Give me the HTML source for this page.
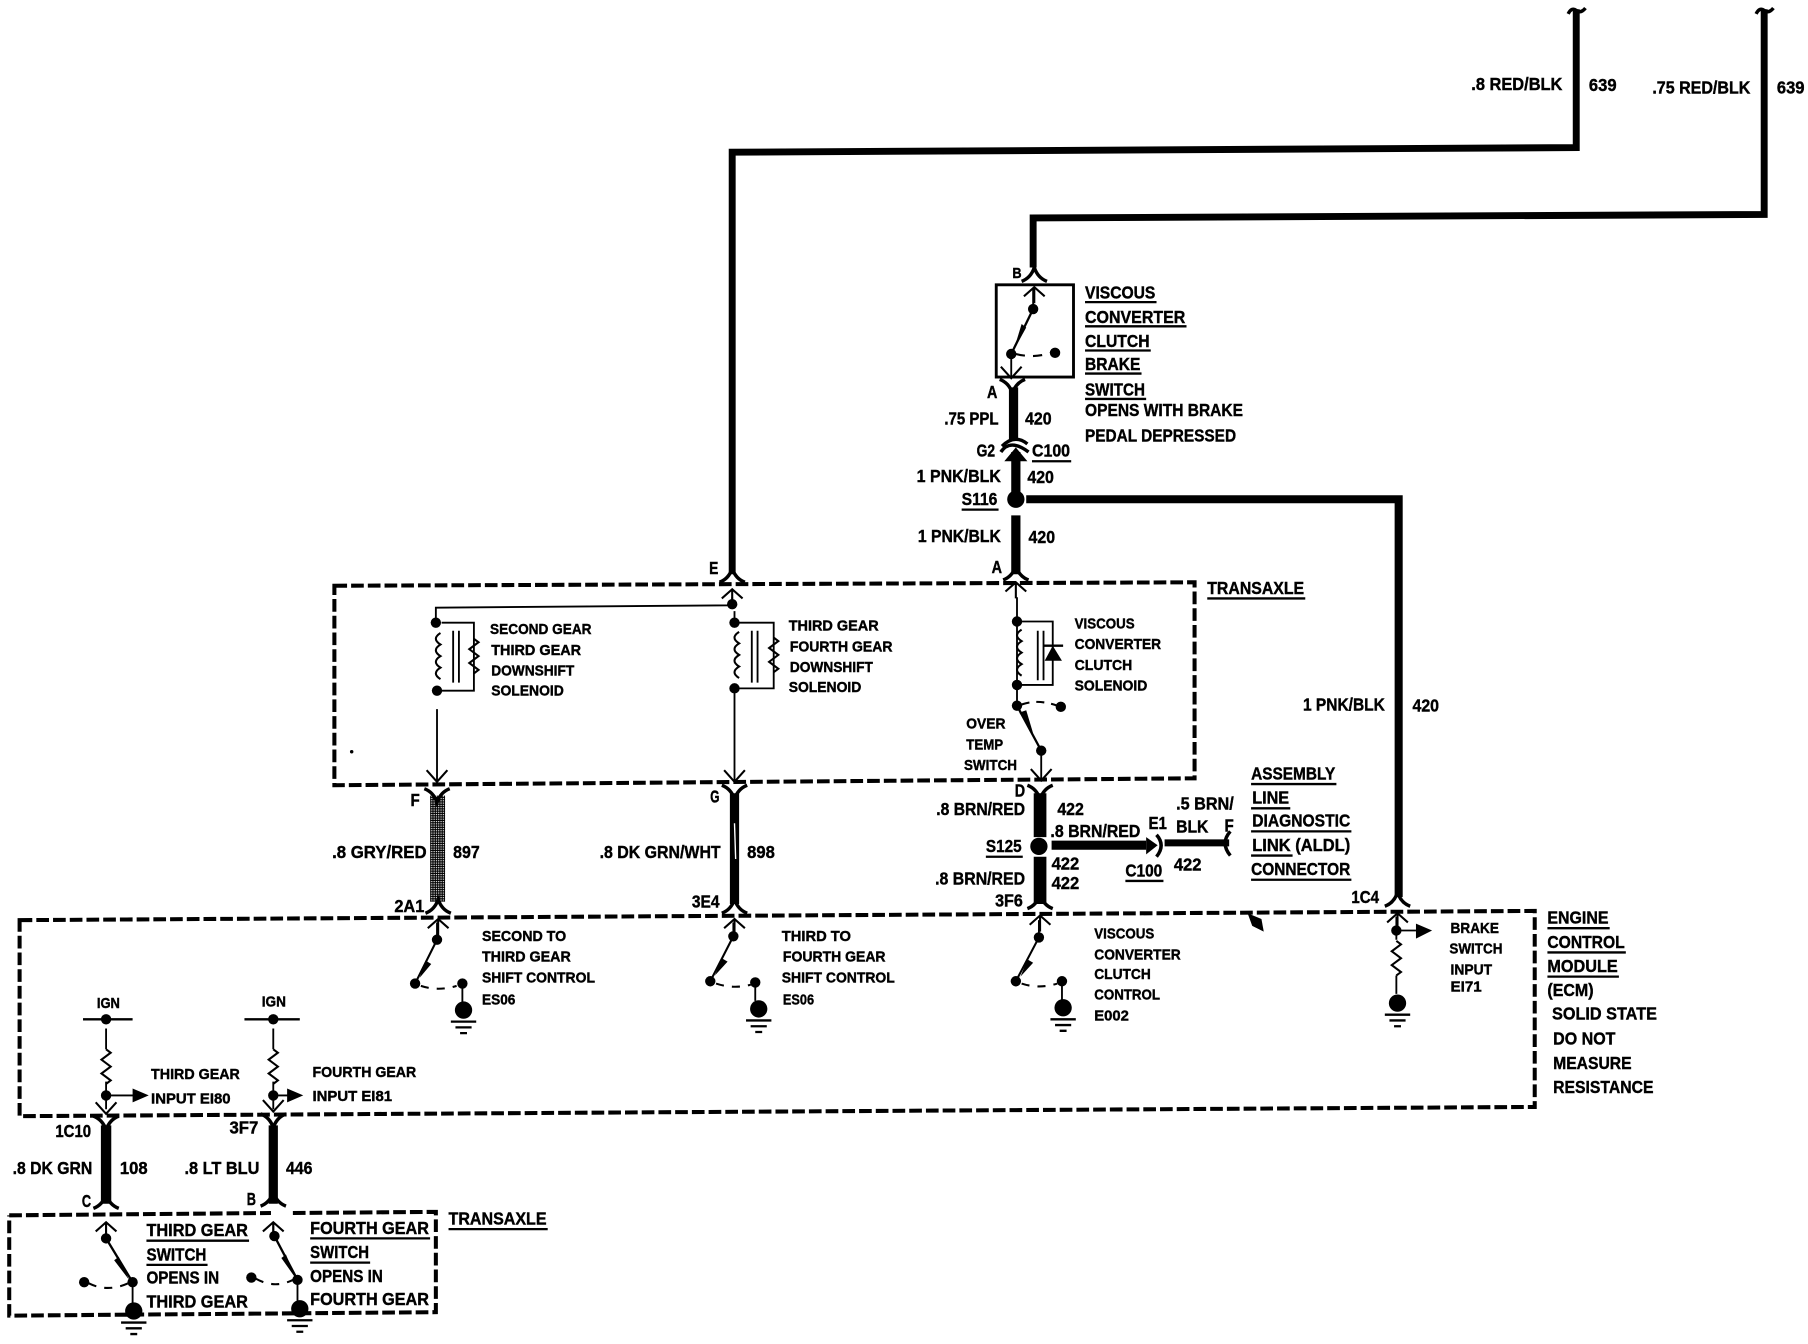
<!DOCTYPE html>
<html><head><meta charset="utf-8"><title>Wiring diagram</title>
<style>
html,body{margin:0;padding:0;background:#fff}
svg{display:block}
text{font-family:"Liberation Sans",sans-serif;font-weight:700;fill:#000;font-size:15px;stroke:#000;stroke-width:.35}
text.s{font-size:12.5px}
.w{fill:none;stroke:#000;stroke-linecap:butt;stroke-linejoin:miter}
.d{fill:none;stroke:#000;stroke-width:3.5;stroke-dasharray:11 3.5}
.t{fill:none;stroke:#000;stroke-width:1.6}
.u{stroke:#000;stroke-width:2}
.f{fill:none;stroke:#000;stroke-width:3}
</style></head><body>
<svg xmlns="http://www.w3.org/2000/svg" width="1808" height="1344" viewBox="0 0 1568 1165.6" preserveAspectRatio="none">
<defs>
<pattern id="st" width="2" height="2" patternUnits="userSpaceOnUse"><rect width="2" height="2" fill="#000"/><rect width="1" height="1" fill="#fff"/></pattern>
<path id="fd" d="M-11,1 Q-3,-2 0,-11 Q3,-2 11,1" fill="none" stroke="#000" stroke-width="3"/>
<path id="fu" d="M-11,-1 Q-3,2 0,11 Q3,2 11,-1" fill="none" stroke="#000" stroke-width="3"/>
<path id="au" d="M-9,8 L0,0 L9,8 M0,0 V14" fill="none" stroke="#000" stroke-width="1.8"/>
<path id="ad" d="M-9,-10 L0,0 L9,-10" fill="none" stroke="#000" stroke-width="1.8"/>
<g id="gn"><circle r="7.5"/><path d="M-11,10 H11 M-7,15 H7 M-3,20 H3" stroke="#000" stroke-width="2"/></g>
<path id="zz" d="M0,0 l4,3 l-8,6 l8,6 l-8,6 l8,6 l-4,3" fill="none" stroke="#000" stroke-width="1.8"/>
<path id="cl" d="M0,0 q-8,5 0,10 q-8,5 0,10 q-8,5 0,10 q-8,5 0,10" fill="none" stroke="#000" stroke-width="1.8"/>
</defs>

<!-- heavy wires -->
<path class="w" stroke-width="6" d="M1367,8 V128 L635,132 V498"/>
<path class="w" stroke-width="6" d="M1530,8 V186 L896,189 V232"/>
<path class="f" stroke-width="2" d="M1360,12 q3,-6 7,-3 q4,3 8,-2 M1523,12 q3,-6 7,-3 q4,3 8,-2"/>
<path class="w" stroke-width="8" d="M879,336 V382 M881,392 V428 M881,447 V498"/>
<path class="w" stroke-width="7" d="M890,433 H1213 V778"/>
<rect x="373" y="690" width="13" height="92" fill="url(#st)"/>
<path class="w" stroke-width="8" d="M637,688 V784"/>
<path stroke="#fff" stroke-width="1.2" d="M637,714 L638,745"/>
<path class="w" stroke-width="11" d="M902,688 V726 M902,743 V784"/>
<path class="w" stroke-width="8" d="M912,733 H994"/>
<path class="w" stroke-width="6" d="M1010,731 H1066"/>
<path class="w" stroke-width="9" d="M92,976 V1044"/>
<path class="w" stroke-width="8" d="M237,976 V1044"/>
<circle cx="881" cy="433" r="7.5"/><circle cx="901" cy="734" r="7.5"/>

<!-- dashed boxes -->
<path class="d" d="M290,508 L1036,505 V675 L290,681 Z"/>
<path class="d" d="M17,798 L1331,790 V960 L17,968 Z"/>
<path class="d" d="M8,1054 L235,1052 M254,1052 L378,1051 V1138 L8,1141 V1054"/>

<!-- connectors -->
<use href="#fd" x="635" y="504"/><use href="#au" x="635" y="511"/>
<use href="#fd" x="881" y="502"/><use href="#au" x="881" y="505"/>
<use href="#fd" x="897" y="243"/><use href="#au" x="897" y="249"/>
<use href="#fu" x="878" y="330"/>
<use href="#fu" x="379" y="685"/><use href="#fu" x="637" y="682"/><use href="#fu" x="902" y="682"/>
<use href="#fd" x="380" y="791"/><use href="#au" x="380" y="797"/>
<use href="#fd" x="637" y="791"/><use href="#au" x="637" y="797"/>
<use href="#fd" x="902" y="787"/><use href="#au" x="902" y="794"/>
<use href="#fd" x="1212" y="785"/><use href="#au" x="1212" y="792"/>
<use href="#fu" x="92" y="969"/><use href="#fu" x="237" y="967"/>
<use href="#fd" x="92" y="1047"/><use href="#au" x="92" y="1060"/>
<use href="#fd" x="237" y="1045"/><use href="#au" x="237" y="1060"/>
<use href="#ad" x="379" y="678"/><use href="#ad" x="637" y="678"/><use href="#ad" x="903" y="677"/>
<use href="#ad" x="92" y="966"/><use href="#ad" x="237" y="964"/>

<!-- G2 C100 connector -->
<path d="M868,392 Q876,380 892,392" class="f"/><path d="M869,387 Q880,376 891,385" class="f"/>
<path d="M871,400 L881,388 L891,400 Z"/>
<!-- E1 connector -->
<path d="M994,726 L1004,733 L994,741 Z"/>
<path class="f" d="M1003,724 Q1011,733 1003,743"/><path class="f" d="M1067,721 Q1058,731 1067,742"/>

<!-- brake switch -->
<rect x="864" y="247" width="67" height="80" fill="none" stroke="#000" stroke-width="2.5"/>
<path class="t" d="M896,250 V268"/>
<circle cx="896" cy="268" r="4.5"/><circle cx="877" cy="307" r="4.5"/><circle cx="915" cy="306" r="4.5"/>
<path d="M896,268 L877,307" stroke="#000" stroke-width="2"/><path d="M886,281 L890,284 L879,304 Z"/>
<path d="M881,307 Q897,311 911,306" fill="none" stroke="#000" stroke-width="1.8" stroke-dasharray="8 7"/>
<path class="t" d="M877,307 V327"/><use href="#ad" x="877" y="328"/>

<!-- solenoids -->
<path class="t" stroke-width="2" d="M378,536 V527 L635,525 V518"/>
<circle cx="635" cy="524" r="4.5"/>
<circle cx="378" cy="540" r="4.5"/><circle cx="379" cy="599" r="4.5"/>
<path class="t" d="M383,540 H411 V599 H383 M379,615 V678"/>
<use href="#cl" x="382" y="549"/>
<path class="t" d="M393,547 V592 M398,547 V592"/>
<use href="#zz" x="411" y="554"/>

<circle cx="637" cy="540" r="4.5"/><circle cx="637" cy="597" r="4.5"/>
<path class="t" d="M641,540 H671 V597 H641 M637,530 V536 M637,597 V678"/>
<use href="#cl" x="641" y="548"/>
<path class="t" stroke-width="2" d="M652,547 V592 M657,547 V592"/>
<use href="#zz" x="671" y="553"/>

<circle cx="882" cy="539" r="4.5"/><circle cx="882" cy="594" r="4.5"/><circle cx="882" cy="612" r="4.5"/><circle cx="920" cy="613" r="4.5"/><circle cx="903" cy="651" r="4.5"/>
<path class="t" d="M886,539 H913 V594 H886 M882,518 V594 V612 M903,651 V677"/>
<use href="#cl" x="886" y="546"/>
<path class="t" stroke-width="2" d="M900,547 V590 M905,547 V590"/>
<path d="M906,573 L913,560 L921,573 Z"/><path d="M905,560 H922" stroke="#000" stroke-width="2"/>
<path d="M882,612 L903,651" stroke="#000" stroke-width="2"/><path d="M884,618 L890,616 L896,636 Z"/>
<path d="M886,611 Q900,606 917,612" fill="none" stroke="#000" stroke-width="1.8" stroke-dasharray="7 6"/>

<!-- ECM switches -->
<g fill="#000">
<circle cx="379" cy="815" r="4.5"/><circle cx="360" cy="853" r="4.5"/><circle cx="401" cy="853" r="4.5"/>
<circle cx="636" cy="812" r="4.5"/><circle cx="616" cy="851" r="4.5"/><circle cx="655" cy="852" r="4.5"/>
<circle cx="901" cy="813" r="4.5"/><circle cx="881" cy="851" r="4.5"/><circle cx="921" cy="851" r="4.5"/>
<circle cx="1211" cy="807" r="4.5"/>
</g>
<path class="t" d="M379,800 V815 M636,800 V812 M901,798 V813 M401,853 V870 M655,852 V868 M921,851 V868 M1211,795 V815 M1211,846 V862 M1211,807 H1228"/>
<path d="M379,815 L360,853 M636,812 L616,851 M901,813 L881,851" stroke="#000" stroke-width="1.8"/>
<path d="M369,833 L374,836 L364,848 Z M626,831 L631,834 L620,846 Z M891,832 L896,835 L885,847 Z"/>
<path d="M365,855 Q380,860 396,855 M621,853 Q636,858 651,854 M886,853 Q901,858 917,853" fill="none" stroke="#000" stroke-width="1.8" stroke-dasharray="7 7"/>
<use href="#gn" x="402" y="876"/><use href="#gn" x="658" y="875"/><use href="#gn" x="922" y="874"/><use href="#gn" x="1212" y="870"/>
<use href="#zz" x="1211" y="816"/>
<path d="M1228,801 L1242,807 L1228,814 Z"/>

<!-- IGN inputs -->
<path d="M72,884 H115 M212,884 H260" stroke="#000" stroke-width="2"/>
<circle cx="92" cy="884" r="4.5"/><circle cx="237" cy="884" r="4.5"/>
<circle cx="92" cy="950" r="4.5"/><circle cx="237" cy="950" r="4.5"/>
<path class="t" d="M92,892 V910 M92,938 V962 M237,892 V910 M237,938 V962 M92,950 H116 M237,950 H250"/>
<use href="#zz" x="92" y="910"/><use href="#zz" x="237" y="910"/>
<path d="M115,944 L129,950 L115,956 Z M249,944 L263,950 L249,956 Z"/>

<!-- bottom switches -->
<circle cx="92" cy="1074" r="4.5"/><circle cx="115" cy="1112" r="4.5"/><circle cx="73" cy="1112" r="4.5"/>
<circle cx="238" cy="1072" r="4.5"/><circle cx="258" cy="1110" r="4.5"/><circle cx="218" cy="1108" r="4.5"/>
<path class="t" d="M92,1062 V1074 M237,1062 V1072 M115,1112 V1130 M258,1110 V1128"/>
<path d="M92,1074 L115,1112 M238,1072 L258,1110" stroke="#000" stroke-width="2"/>
<path d="M103,1090 L99,1093 L112,1110 Z M248,1088 L244,1091 L256,1108 Z"/>
<path d="M77,1113 Q93,1121 111,1113 M222,1109 Q238,1118 254,1110" fill="none" stroke="#000" stroke-width="1.8" stroke-dasharray="7 7"/>
<use href="#gn" x="116" y="1137"/><use href="#gn" x="260" y="1135"/>

<!-- specks -->
<path d="M1082,792 L1094,797 L1096,808 L1086,803 Z"/><circle cx="305" cy="652" r="1.5"/>

<!-- underlines -->
<path class="u" d="M941,262 H1003 M941,283 H1029 M941,304 H998 M941,324 H990 M941,346 H994 M895,400 H929 M834,442 H866 M1047,519 H1132 M1085,680 H1159 M1085,701 H1119 M1085,721 H1172 M1085,742 H1121 M1085,763 H1172 M855,743 H887 M976,764 H1009 M1342,805 H1396 M1342,826 H1410 M1342,847 H1404 M127,1076 H216 M127,1097 H180 M269,1074 H373 M269,1095 H321 M389,1066 H475"/>

<!-- labels -->
<text x="1276" y="78" textLength="79" lengthAdjust="spacingAndGlyphs">.8 RED/BLK</text>
<text x="1378" y="79" textLength="24" lengthAdjust="spacingAndGlyphs">639</text>
<text x="1433" y="81" textLength="85" lengthAdjust="spacingAndGlyphs">.75 RED/BLK</text>
<text x="1541" y="81" textLength="24" lengthAdjust="spacingAndGlyphs">639</text>
<text x="878" y="241" class="s" textLength="8" lengthAdjust="spacingAndGlyphs">B</text>
<text x="941" y="259" textLength="61" lengthAdjust="spacingAndGlyphs">VISCOUS</text>
<text x="941" y="280" textLength="87" lengthAdjust="spacingAndGlyphs">CONVERTER</text>
<text x="941" y="301" textLength="56" lengthAdjust="spacingAndGlyphs">CLUTCH</text>
<text x="941" y="321" textLength="48" lengthAdjust="spacingAndGlyphs">BRAKE</text>
<text x="941" y="343" textLength="52" lengthAdjust="spacingAndGlyphs">SWITCH</text>
<text x="941" y="361" textLength="137" lengthAdjust="spacingAndGlyphs">OPENS WITH BRAKE</text>
<text x="941" y="383" textLength="131" lengthAdjust="spacingAndGlyphs">PEDAL DEPRESSED</text>
<text x="856" y="345" textLength="9" lengthAdjust="spacingAndGlyphs">A</text>
<text x="819" y="368" textLength="47" lengthAdjust="spacingAndGlyphs">.75 PPL</text>
<text x="889" y="368" textLength="23" lengthAdjust="spacingAndGlyphs">420</text>
<text x="847" y="396" textLength="16" lengthAdjust="spacingAndGlyphs">G2</text>
<text x="895" y="396" textLength="33" lengthAdjust="spacingAndGlyphs">C100</text>
<text x="795" y="418" textLength="73" lengthAdjust="spacingAndGlyphs">1 PNK/BLK</text>
<text x="891" y="419" textLength="23" lengthAdjust="spacingAndGlyphs">420</text>
<text x="834" y="438" textLength="31" lengthAdjust="spacingAndGlyphs">S116</text>
<text x="796" y="470" textLength="72" lengthAdjust="spacingAndGlyphs">1 PNK/BLK</text>
<text x="892" y="471" textLength="23" lengthAdjust="spacingAndGlyphs">420</text>
<text x="860" y="497" textLength="9" lengthAdjust="spacingAndGlyphs">A</text>
<text x="615" y="498" textLength="8" lengthAdjust="spacingAndGlyphs">E</text>
<text x="1047" y="515" textLength="84" lengthAdjust="spacingAndGlyphs">TRANSAXLE</text>

<text class="s" x="425" y="550" textLength="88" lengthAdjust="spacingAndGlyphs">SECOND GEAR</text>
<text class="s" x="426" y="568" textLength="78" lengthAdjust="spacingAndGlyphs">THIRD GEAR</text>
<text class="s" x="426" y="586" textLength="72" lengthAdjust="spacingAndGlyphs">DOWNSHIFT</text>
<text class="s" x="426" y="603" textLength="63" lengthAdjust="spacingAndGlyphs">SOLENOID</text>
<text class="s" x="684" y="547" textLength="78" lengthAdjust="spacingAndGlyphs">THIRD GEAR</text>
<text class="s" x="685" y="565" textLength="89" lengthAdjust="spacingAndGlyphs">FOURTH GEAR</text>
<text class="s" x="685" y="583" textLength="72" lengthAdjust="spacingAndGlyphs">DOWNSHIFT</text>
<text class="s" x="684" y="600" textLength="63" lengthAdjust="spacingAndGlyphs">SOLENOID</text>
<text class="s" x="932" y="545" textLength="52" lengthAdjust="spacingAndGlyphs">VISCOUS</text>
<text class="s" x="932" y="563" textLength="75" lengthAdjust="spacingAndGlyphs">CONVERTER</text>
<text class="s" x="932" y="581" textLength="50" lengthAdjust="spacingAndGlyphs">CLUTCH</text>
<text class="s" x="932" y="599" textLength="63" lengthAdjust="spacingAndGlyphs">SOLENOID</text>
<text class="s" x="838" y="632" textLength="34" lengthAdjust="spacingAndGlyphs">OVER</text>
<text class="s" x="838" y="650" textLength="32" lengthAdjust="spacingAndGlyphs">TEMP</text>
<text class="s" x="836" y="668" textLength="46" lengthAdjust="spacingAndGlyphs">SWITCH</text>

<text x="1130" y="616" textLength="71" lengthAdjust="spacingAndGlyphs">1 PNK/BLK</text>
<text x="1225" y="617" textLength="23" lengthAdjust="spacingAndGlyphs">420</text>
<text x="1085" y="676" textLength="73" lengthAdjust="spacingAndGlyphs">ASSEMBLY</text>
<text x="1086" y="697" textLength="32" lengthAdjust="spacingAndGlyphs">LINE</text>
<text x="1086" y="717" textLength="85" lengthAdjust="spacingAndGlyphs">DIAGNOSTIC</text>
<text x="1086" y="738" textLength="85" lengthAdjust="spacingAndGlyphs">LINK (ALDL)</text>
<text x="1085" y="759" textLength="86" lengthAdjust="spacingAndGlyphs">CONNECTOR</text>

<text x="356" y="699" textLength="8" lengthAdjust="spacingAndGlyphs">F</text>
<text x="616" y="696" textLength="8" lengthAdjust="spacingAndGlyphs">G</text>
<text x="880" y="691" textLength="9" lengthAdjust="spacingAndGlyphs">D</text>
<text x="288" y="744" textLength="82" lengthAdjust="spacingAndGlyphs">.8 GRY/RED</text>
<text x="393" y="744" textLength="23" lengthAdjust="spacingAndGlyphs">897</text>
<text x="520" y="744" textLength="105" lengthAdjust="spacingAndGlyphs">.8 DK GRN/WHT</text>
<text x="648" y="744" textLength="24" lengthAdjust="spacingAndGlyphs">898</text>
<text x="812" y="707" textLength="77" lengthAdjust="spacingAndGlyphs">.8 BRN/RED</text>
<text x="917" y="707" textLength="23" lengthAdjust="spacingAndGlyphs">422</text>
<text x="911" y="726" textLength="78" lengthAdjust="spacingAndGlyphs">.8 BRN/RED</text>
<text x="996" y="719" textLength="16" lengthAdjust="spacingAndGlyphs">E1</text>
<text x="1020" y="702" textLength="50" lengthAdjust="spacingAndGlyphs">.5 BRN/</text>
<text x="1020" y="722" textLength="28" lengthAdjust="spacingAndGlyphs">BLK</text>
<text x="1062" y="721" textLength="8" lengthAdjust="spacingAndGlyphs">F</text>
<text x="855" y="739" textLength="31" lengthAdjust="spacingAndGlyphs">S125</text>
<text x="912" y="754" textLength="24" lengthAdjust="spacingAndGlyphs">422</text>
<text x="912" y="771" textLength="24" lengthAdjust="spacingAndGlyphs">422</text>
<text x="976" y="760" textLength="32" lengthAdjust="spacingAndGlyphs">C100</text>
<text x="1018" y="755" textLength="24" lengthAdjust="spacingAndGlyphs">422</text>
<text x="811" y="767" textLength="78" lengthAdjust="spacingAndGlyphs">.8 BRN/RED</text>
<text x="863" y="786" textLength="24" lengthAdjust="spacingAndGlyphs">3F6</text>
<text x="342" y="791" textLength="26" lengthAdjust="spacingAndGlyphs">2A1</text>
<text x="600" y="787" textLength="24" lengthAdjust="spacingAndGlyphs">3E4</text>
<text x="1172" y="783" textLength="24" lengthAdjust="spacingAndGlyphs">1C4</text>

<text class="s" x="418" y="816" textLength="73" lengthAdjust="spacingAndGlyphs">SECOND TO</text>
<text class="s" x="418" y="834" textLength="77" lengthAdjust="spacingAndGlyphs">THIRD GEAR</text>
<text class="s" x="418" y="852" textLength="98" lengthAdjust="spacingAndGlyphs">SHIFT CONTROL</text>
<text class="s" x="418" y="871" textLength="29" lengthAdjust="spacingAndGlyphs">ES06</text>
<text class="s" x="678" y="816" textLength="60" lengthAdjust="spacingAndGlyphs">THIRD TO</text>
<text class="s" x="679" y="834" textLength="89" lengthAdjust="spacingAndGlyphs">FOURTH GEAR</text>
<text class="s" x="678" y="852" textLength="98" lengthAdjust="spacingAndGlyphs">SHIFT CONTROL</text>
<text class="s" x="679" y="871" textLength="27" lengthAdjust="spacingAndGlyphs">ES06</text>
<text class="s" x="949" y="814" textLength="52" lengthAdjust="spacingAndGlyphs">VISCOUS</text>
<text class="s" x="949" y="832" textLength="75" lengthAdjust="spacingAndGlyphs">CONVERTER</text>
<text class="s" x="949" y="849" textLength="49" lengthAdjust="spacingAndGlyphs">CLUTCH</text>
<text class="s" x="949" y="867" textLength="57" lengthAdjust="spacingAndGlyphs">CONTROL</text>
<text class="s" x="949" y="885" textLength="30" lengthAdjust="spacingAndGlyphs">E002</text>
<text class="s" x="1258" y="809" textLength="42" lengthAdjust="spacingAndGlyphs">BRAKE</text>
<text class="s" x="1257" y="827" textLength="46" lengthAdjust="spacingAndGlyphs">SWITCH</text>
<text class="s" x="1258" y="845" textLength="36" lengthAdjust="spacingAndGlyphs">INPUT</text>
<text class="s" x="1258" y="860" textLength="27" lengthAdjust="spacingAndGlyphs">EI71</text>
<text x="1342" y="801" textLength="53" lengthAdjust="spacingAndGlyphs">ENGINE</text>
<text x="1342" y="822" textLength="67" lengthAdjust="spacingAndGlyphs">CONTROL</text>
<text x="1342" y="843" textLength="61" lengthAdjust="spacingAndGlyphs">MODULE</text>
<text x="1342" y="864" textLength="40" lengthAdjust="spacingAndGlyphs">(ECM)</text>
<text x="1346" y="884" textLength="91" lengthAdjust="spacingAndGlyphs">SOLID STATE</text>
<text x="1347" y="906" textLength="54" lengthAdjust="spacingAndGlyphs">DO NOT</text>
<text x="1347" y="927" textLength="68" lengthAdjust="spacingAndGlyphs">MEASURE</text>
<text x="1347" y="948" textLength="87" lengthAdjust="spacingAndGlyphs">RESISTANCE</text>

<text class="s" x="84" y="874" textLength="20" lengthAdjust="spacingAndGlyphs">IGN</text>
<text class="s" x="227" y="873" textLength="21" lengthAdjust="spacingAndGlyphs">IGN</text>
<text class="s" x="131" y="936" textLength="77" lengthAdjust="spacingAndGlyphs">THIRD GEAR</text>
<text class="s" x="131" y="957" textLength="69" lengthAdjust="spacingAndGlyphs">INPUT EI80</text>
<text class="s" x="271" y="934" textLength="90" lengthAdjust="spacingAndGlyphs">FOURTH GEAR</text>
<text class="s" x="271" y="955" textLength="69" lengthAdjust="spacingAndGlyphs">INPUT EI81</text>
<text x="48" y="986" textLength="31" lengthAdjust="spacingAndGlyphs">1C10</text>
<text x="199" y="983" textLength="25" lengthAdjust="spacingAndGlyphs">3F7</text>
<text x="11" y="1018" textLength="69" lengthAdjust="spacingAndGlyphs">.8 DK GRN</text>
<text x="104" y="1018" textLength="24" lengthAdjust="spacingAndGlyphs">108</text>
<text x="160" y="1018" textLength="65" lengthAdjust="spacingAndGlyphs">.8 LT BLU</text>
<text x="248" y="1018" textLength="23" lengthAdjust="spacingAndGlyphs">446</text>
<text x="71" y="1047" textLength="8" lengthAdjust="spacingAndGlyphs">C</text>
<text x="214" y="1045" textLength="8" lengthAdjust="spacingAndGlyphs">B</text>
<text x="127" y="1072" textLength="88" lengthAdjust="spacingAndGlyphs">THIRD GEAR</text>
<text x="127" y="1093" textLength="52" lengthAdjust="spacingAndGlyphs">SWITCH</text>
<text x="127" y="1113" textLength="63" lengthAdjust="spacingAndGlyphs">OPENS IN</text>
<text x="127" y="1134" textLength="88" lengthAdjust="spacingAndGlyphs">THIRD GEAR</text>
<text x="269" y="1070" textLength="103" lengthAdjust="spacingAndGlyphs">FOURTH GEAR</text>
<text x="269" y="1091" textLength="51" lengthAdjust="spacingAndGlyphs">SWITCH</text>
<text x="269" y="1112" textLength="63" lengthAdjust="spacingAndGlyphs">OPENS IN</text>
<text x="269" y="1132" textLength="103" lengthAdjust="spacingAndGlyphs">FOURTH GEAR</text>
<text x="389" y="1062" textLength="85" lengthAdjust="spacingAndGlyphs">TRANSAXLE</text>
</svg>
</body></html>
